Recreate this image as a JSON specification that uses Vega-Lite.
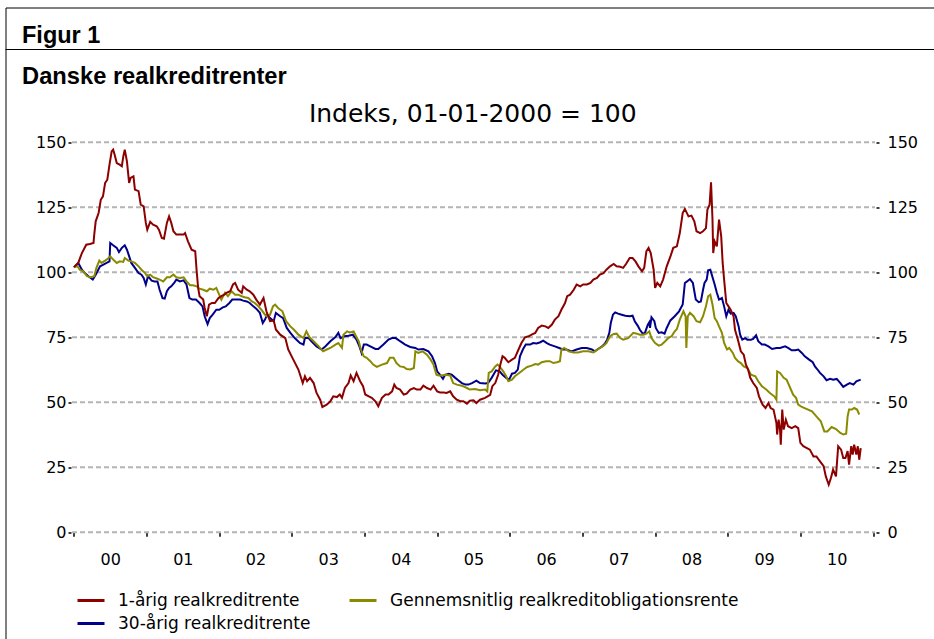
{
  "$schema": "https://vega.github.io/schema/vega-lite/v6.json",
  "background": "white",
  "autosize": {"type": "none"},
  "padding": {"left": 5.5, "top": 7.5, "right": 0, "bottom": 0},
  "width": 928.5,
  "height": 631.5,
  "title": {
    "text": "Figur 1",
    "anchor": "start",
    "frame": "group",
    "offset": -59,
    "dx": 16.5,
    "baseline": "alphabetic",
    "font": "Liberation Sans",
    "fontSize": 23.5,
    "fontWeight": "bold",
    "color": "black"
  },
  "datasets": {
    "grid": [{"g": 0}, {"g": 25}, {"g": 50}, {"g": 75}, {"g": 100}, {"g": 125}, {"g": 150}],
    "sep": [{"s": 185.69}],
    "head": [{"label": "Danske realkreditrenter"}],
    "sub": [{"label": "Indeks, 01-01-2000 = 100"}],
    "r1": [
      {"t":2000.00,"v":102},{"t":2000.06,"v":103.6},{"t":2000.11,"v":107.4},{"t":2000.17,"v":110.6},{"t":2000.22,"v":110.9},{"t":2000.27,"v":111.3},{"t":2000.28,"v":114.5},{"t":2000.30,"v":119.6},{"t":2000.34,"v":122.8},{"t":2000.37,"v":127.9},{"t":2000.40,"v":129.2},{"t":2000.43,"v":134.4},{"t":2000.46,"v":135.6},{"t":2000.49,"v":141.4},{"t":2000.52,"v":146.5},{"t":2000.54,"v":147.2},{"t":2000.56,"v":145.3},{"t":2000.59,"v":142},{"t":2000.63,"v":141.4},{"t":2000.66,"v":140.8},{"t":2000.68,"v":144.6},{"t":2000.70,"v":147.2},{"t":2000.73,"v":142.7},{"t":2000.76,"v":134.4},{"t":2000.78,"v":136.3},{"t":2000.82,"v":136.9},{"t":2000.84,"v":131.8},{"t":2000.89,"v":131.2},{"t":2000.92,"v":126},{"t":2000.96,"v":125.4},{"t":2000.99,"v":119},
      {"t":2001.01,"v":116.4},{"t":2001.05,"v":119.4},{"t":2001.09,"v":118.3},{"t":2001.14,"v":117.7},{"t":2001.17,"v":116.4},{"t":2001.21,"v":113.2},{"t":2001.24,"v":112.9},{"t":2001.28,"v":119},{"t":2001.31,"v":121.5},{"t":2001.34,"v":119},{"t":2001.37,"v":115.8},{"t":2001.41,"v":114.5},{"t":2001.46,"v":114.5},{"t":2001.51,"v":114.5},{"t":2001.53,"v":115.1},{"t":2001.57,"v":111.9},{"t":2001.62,"v":108.7},{"t":2001.67,"v":108.1},{"t":2001.69,"v":100.4},{"t":2001.71,"v":94},{"t":2001.73,"v":90.8},{"t":2001.78,"v":89.5},{"t":2001.80,"v":86.3},{"t":2001.83,"v":83.1},{"t":2001.86,"v":87.6},{"t":2001.90,"v":88.2},{"t":2001.94,"v":88.2},{"t":2001.99,"v":90.1},
      {"t":2002.03,"v":90.8},{"t":2002.07,"v":91.4},{"t":2002.10,"v":92.1},{"t":2002.15,"v":92.7},{"t":2002.19,"v":95.3},{"t":2002.22,"v":95.9},{"t":2002.26,"v":93.3},{"t":2002.31,"v":92.1},{"t":2002.33,"v":94.6},{"t":2002.38,"v":93.3},{"t":2002.42,"v":92.7},{"t":2002.47,"v":91.4},{"t":2002.51,"v":89.5},{"t":2002.56,"v":87.6},{"t":2002.61,"v":90.1},{"t":2002.65,"v":85},{"t":2002.70,"v":81.2},{"t":2002.75,"v":81.5},{"t":2002.78,"v":78},{"t":2002.84,"v":76},{"t":2002.91,"v":74.7},{"t":2002.95,"v":70.3},
      {"t":2003.02,"v":66.4},{"t":2003.09,"v":62.6},{"t":2003.15,"v":57.4},{"t":2003.18,"v":60},{"t":2003.21,"v":58.1},{"t":2003.25,"v":59.4},{"t":2003.30,"v":57.4},{"t":2003.34,"v":53.6},{"t":2003.39,"v":51},{"t":2003.42,"v":48.2},{"t":2003.48,"v":49.1},{"t":2003.53,"v":50.4},{"t":2003.57,"v":52.3},{"t":2003.62,"v":52},{"t":2003.66,"v":53},{"t":2003.69,"v":51.7},{"t":2003.73,"v":55.5},{"t":2003.78,"v":57.4},{"t":2003.81,"v":60.3},{"t":2003.85,"v":58.1},{"t":2003.89,"v":61.3},{"t":2003.94,"v":58.1},{"t":2003.98,"v":56.2},
      {"t":2004.01,"v":53},{"t":2004.06,"v":52.3},{"t":2004.10,"v":51.7},{"t":2004.15,"v":50.4},{"t":2004.19,"v":48.5},{"t":2004.24,"v":51.7},{"t":2004.29,"v":53},{"t":2004.33,"v":53},{"t":2004.38,"v":54.2},{"t":2004.41,"v":56.8},{"t":2004.44,"v":55.5},{"t":2004.49,"v":54.9},{"t":2004.54,"v":53},{"t":2004.58,"v":53.3},{"t":2004.63,"v":54.9},{"t":2004.68,"v":55.5},{"t":2004.72,"v":54.9},{"t":2004.77,"v":54.9},{"t":2004.81,"v":56.4},{"t":2004.86,"v":55.5},{"t":2004.91,"v":54.9},{"t":2004.95,"v":56.4},
      {"t":2005.00,"v":54.2},{"t":2005.04,"v":53.8},{"t":2005.09,"v":53.8},{"t":2005.13,"v":53.6},{"t":2005.18,"v":54.2},{"t":2005.22,"v":52.3},{"t":2005.27,"v":51},{"t":2005.32,"v":50.4},{"t":2005.36,"v":50.4},{"t":2005.41,"v":49.5},{"t":2005.45,"v":50.6},{"t":2005.50,"v":50.8},{"t":2005.54,"v":49.7},{"t":2005.59,"v":51},{"t":2005.66,"v":51.7},{"t":2005.73,"v":52.9},{"t":2005.76,"v":56.2},{"t":2005.80,"v":57.4},{"t":2005.84,"v":60.6},{"t":2005.87,"v":64.5},{"t":2005.90,"v":67.7},{"t":2005.93,"v":67.1},{"t":2005.98,"v":65.4},
      {"t":2006.03,"v":66.4},{"t":2006.07,"v":67.1},{"t":2006.12,"v":70.3},{"t":2006.16,"v":72.8},{"t":2006.21,"v":75},{"t":2006.26,"v":75.4},{"t":2006.30,"v":76},{"t":2006.35,"v":76.7},{"t":2006.39,"v":78.6},{"t":2006.44,"v":79.5},{"t":2006.49,"v":79.2},{"t":2006.53,"v":78.6},{"t":2006.58,"v":79.9},{"t":2006.62,"v":81.8},{"t":2006.67,"v":83.1},{"t":2006.71,"v":85.6},{"t":2006.76,"v":88.2},{"t":2006.79,"v":90.8},{"t":2006.83,"v":91.4},{"t":2006.88,"v":93.3},{"t":2006.92,"v":95.3},{"t":2006.97,"v":94.6},
      {"t":2007.01,"v":95.3},{"t":2007.06,"v":95.3},{"t":2007.11,"v":95.9},{"t":2007.15,"v":97.2},{"t":2007.20,"v":97.8},{"t":2007.24,"v":99.1},{"t":2007.29,"v":99.7},{"t":2007.33,"v":101},{"t":2007.38,"v":102.3},{"t":2007.43,"v":103.2},{"t":2007.47,"v":102.3},{"t":2007.52,"v":102.1},{"t":2007.56,"v":101.7},{"t":2007.60,"v":103.2},{"t":2007.65,"v":105.5},{"t":2007.69,"v":105.5},{"t":2007.73,"v":104.2},{"t":2007.77,"v":102.3},{"t":2007.82,"v":100.4},{"t":2007.85,"v":101.7},{"t":2007.88,"v":108.1},{"t":2007.91,"v":109.4},{"t":2007.94,"v":107.4},{"t":2007.98,"v":101},
      {"t":2008.00,"v":94},{"t":2008.03,"v":95.9},{"t":2008.07,"v":94.6},{"t":2008.11,"v":97.2},{"t":2008.16,"v":102.3},{"t":2008.21,"v":106},{"t":2008.25,"v":109.4},{"t":2008.30,"v":110},{"t":2008.34,"v":115.1},{"t":2008.38,"v":122.8},{"t":2008.41,"v":124.4},{"t":2008.46,"v":121.5},{"t":2008.50,"v":121.8},{"t":2008.54,"v":119.6},{"t":2008.57,"v":115.8},{"t":2008.62,"v":115.1},{"t":2008.66,"v":115.8},{"t":2008.70,"v":117},{"t":2008.72,"v":124.1},{"t":2008.75,"v":126},{"t":2008.77,"v":134.6},{"t":2008.79,"v":120.3},{"t":2008.80,"v":107.4},{"t":2008.82,"v":111.9},{"t":2008.85,"v":110},{"t":2008.88,"v":120.3},{"t":2008.91,"v":113.8},{"t":2008.93,"v":103.6},{"t":2008.95,"v":97.2},{"t":2008.98,"v":88.2},
      {"t":2009.01,"v":86.9},{"t":2009.04,"v":85.6},{"t":2009.08,"v":83.1},{"t":2009.10,"v":77.9},{"t":2009.14,"v":74.1},{"t":2009.18,"v":69.6},{"t":2009.22,"v":68.3},{"t":2009.25,"v":64.5},{"t":2009.28,"v":62.6},{"t":2009.31,"v":59.4},{"t":2009.35,"v":57.4},{"t":2009.40,"v":55.5},{"t":2009.43,"v":52.3},{"t":2009.48,"v":49.1},{"t":2009.52,"v":47.8},{"t":2009.56,"v":49.7},{"t":2009.59,"v":47.8},{"t":2009.63,"v":47.2},{"t":2009.67,"v":42},{"t":2009.68,"v":37.6},{"t":2009.70,"v":43.3},{"t":2009.72,"v":39.5},{"t":2009.73,"v":33.7},{"t":2009.75,"v":47.2},{"t":2009.77,"v":39.5},{"t":2009.80,"v":43.3},{"t":2009.83,"v":40.8},{"t":2009.88,"v":40.1},{"t":2009.93,"v":40.8},{"t":2009.97,"v":40.1},
      {"t":2010.00,"v":34.4},{"t":2010.04,"v":33.1},{"t":2010.09,"v":32.4},{"t":2010.13,"v":31.8},{"t":2010.18,"v":29.2},{"t":2010.22,"v":29.2},{"t":2010.27,"v":27.3},{"t":2010.32,"v":25.4},{"t":2010.35,"v":21.5},{"t":2010.39,"v":18.3},{"t":2010.42,"v":20.9},{"t":2010.45,"v":24.1},{"t":2010.49,"v":21.5},{"t":2010.52,"v":33.1},{"t":2010.56,"v":31.8},{"t":2010.59,"v":28.6},{"t":2010.62,"v":28.6},{"t":2010.65,"v":31.2},{"t":2010.67,"v":26},{"t":2010.70,"v":33.1},{"t":2010.72,"v":29.9},{"t":2010.74,"v":33.7},{"t":2010.77,"v":29.9},{"t":2010.79,"v":33.1},{"t":2010.81,"v":27.9},{"t":2010.83,"v":32.4}
    ],
    "r30": [
      {"t":2000.00,"v":101.9},{"t":2000.06,"v":103.6},{"t":2000.11,"v":101},{"t":2000.15,"v":99.7},{"t":2000.20,"v":98.5},{"t":2000.26,"v":97.2},{"t":2000.30,"v":99.1},{"t":2000.36,"v":102.3},{"t":2000.40,"v":102.9},{"t":2000.45,"v":103.6},{"t":2000.49,"v":104.2},{"t":2000.50,"v":111.3},{"t":2000.54,"v":110.4},{"t":2000.59,"v":109.4},{"t":2000.62,"v":107.8},{"t":2000.66,"v":109.4},{"t":2000.70,"v":110.4},{"t":2000.73,"v":108.7},{"t":2000.76,"v":106.2},{"t":2000.79,"v":103.6},{"t":2000.84,"v":101.7},{"t":2000.89,"v":99.7},{"t":2000.93,"v":99.1},{"t":2000.96,"v":97.8},{"t":2000.99,"v":95.3},
      {"t":2001.02,"v":98.5},{"t":2001.07,"v":96.8},{"t":2001.11,"v":96.5},{"t":2001.15,"v":96.5},{"t":2001.18,"v":93.3},{"t":2001.22,"v":90.1},{"t":2001.25,"v":89.9},{"t":2001.28,"v":92.7},{"t":2001.31,"v":94},{"t":2001.34,"v":94.6},{"t":2001.38,"v":95.9},{"t":2001.41,"v":97.2},{"t":2001.46,"v":96.5},{"t":2001.51,"v":96.9},{"t":2001.55,"v":95.3},{"t":2001.59,"v":90.1},{"t":2001.63,"v":89.5},{"t":2001.68,"v":89.5},{"t":2001.73,"v":88.2},{"t":2001.77,"v":86.9},{"t":2001.80,"v":83.1},{"t":2001.84,"v":80.1},{"t":2001.87,"v":82.4},{"t":2001.91,"v":83.7},{"t":2001.96,"v":85.6},
      {"t":2002.00,"v":85.6},{"t":2002.05,"v":86.5},{"t":2002.09,"v":86.9},{"t":2002.14,"v":88.2},{"t":2002.18,"v":89.5},{"t":2002.23,"v":89.5},{"t":2002.29,"v":89.5},{"t":2002.33,"v":89.1},{"t":2002.38,"v":88.8},{"t":2002.42,"v":88.2},{"t":2002.47,"v":86.9},{"t":2002.51,"v":86},{"t":2002.56,"v":84.4},{"t":2002.60,"v":80.5},{"t":2002.63,"v":81.8},{"t":2002.66,"v":83.7},{"t":2002.70,"v":82.4},{"t":2002.75,"v":81.2},{"t":2002.78,"v":84.4},{"t":2002.84,"v":83.1},{"t":2002.88,"v":82.4},{"t":2002.93,"v":78.6},{"t":2002.98,"v":76.7},
      {"t":2003.04,"v":74.7},{"t":2003.11,"v":72.8},{"t":2003.16,"v":72.2},{"t":2003.18,"v":74.7},{"t":2003.23,"v":74.7},{"t":2003.27,"v":73.5},{"t":2003.34,"v":71.5},{"t":2003.41,"v":70.3},{"t":2003.46,"v":71.5},{"t":2003.53,"v":73.5},{"t":2003.60,"v":75.1},{"t":2003.64,"v":76.7},{"t":2003.67,"v":74.7},{"t":2003.72,"v":75.4},{"t":2003.78,"v":75.6},{"t":2003.84,"v":76},{"t":2003.89,"v":74.1},{"t":2003.93,"v":71.5},{"t":2003.96,"v":69},{"t":2003.99,"v":72.2},
      {"t":2004.03,"v":72.2},{"t":2004.08,"v":71.5},{"t":2004.15,"v":70.5},{"t":2004.19,"v":70.5},{"t":2004.26,"v":72.2},{"t":2004.33,"v":74.1},{"t":2004.38,"v":74.7},{"t":2004.43,"v":74.7},{"t":2004.49,"v":73.5},{"t":2004.56,"v":72.2},{"t":2004.63,"v":71.3},{"t":2004.70,"v":70.9},{"t":2004.74,"v":70.3},{"t":2004.81,"v":70.5},{"t":2004.88,"v":69.6},{"t":2004.93,"v":67.7},{"t":2004.97,"v":65.1},
      {"t":2005.00,"v":61.9},{"t":2005.04,"v":60.6},{"t":2005.08,"v":59},{"t":2005.11,"v":60.6},{"t":2005.16,"v":61},{"t":2005.20,"v":60.6},{"t":2005.25,"v":59.4},{"t":2005.29,"v":58.5},{"t":2005.34,"v":57.4},{"t":2005.39,"v":56.8},{"t":2005.43,"v":56.8},{"t":2005.48,"v":57.4},{"t":2005.54,"v":58.3},{"t":2005.59,"v":57.4},{"t":2005.66,"v":57.2},{"t":2005.70,"v":57.4},{"t":2005.75,"v":59.4},{"t":2005.81,"v":62.3},{"t":2005.86,"v":61.9},{"t":2005.90,"v":60.6},{"t":2005.95,"v":59.4},{"t":2005.99,"v":58.7},
      {"t":2006.03,"v":61},{"t":2006.07,"v":61.3},{"t":2006.11,"v":62.6},{"t":2006.14,"v":67.7},{"t":2006.18,"v":70.3},{"t":2006.22,"v":72.2},{"t":2006.28,"v":72.2},{"t":2006.32,"v":72.8},{"t":2006.37,"v":72.6},{"t":2006.42,"v":73.1},{"t":2006.46,"v":73.7},{"t":2006.51,"v":72.8},{"t":2006.55,"v":72.2},{"t":2006.62,"v":71.5},{"t":2006.68,"v":70.9},{"t":2006.73,"v":70.3},{"t":2006.78,"v":70.3},{"t":2006.85,"v":69.6},{"t":2006.92,"v":70.3},{"t":2006.99,"v":70.9},
      {"t":2007.06,"v":70.9},{"t":2007.13,"v":70.3},{"t":2007.17,"v":69.6},{"t":2007.22,"v":70.6},{"t":2007.27,"v":71.5},{"t":2007.31,"v":72.6},{"t":2007.34,"v":74.1},{"t":2007.37,"v":76.7},{"t":2007.39,"v":80.5},{"t":2007.42,"v":83.7},{"t":2007.45,"v":84.6},{"t":2007.49,"v":84.1},{"t":2007.54,"v":83.7},{"t":2007.59,"v":83.3},{"t":2007.65,"v":83.1},{"t":2007.69,"v":83.3},{"t":2007.72,"v":81.2},{"t":2007.76,"v":79.5},{"t":2007.79,"v":77.9},{"t":2007.83,"v":76.4},{"t":2007.86,"v":76.7},{"t":2007.90,"v":79.9},{"t":2007.92,"v":80.8},{"t":2007.93,"v":78.6},{"t":2007.95,"v":82.7},{"t":2007.99,"v":81.2},
      {"t":2008.01,"v":78.6},{"t":2008.05,"v":76.7},{"t":2008.09,"v":76.9},{"t":2008.13,"v":76.4},{"t":2008.16,"v":78.6},{"t":2008.21,"v":81.5},{"t":2008.27,"v":83.1},{"t":2008.33,"v":85},{"t":2008.38,"v":87.6},{"t":2008.41,"v":95.9},{"t":2008.44,"v":96.5},{"t":2008.48,"v":97.4},{"t":2008.52,"v":95.9},{"t":2008.54,"v":92.7},{"t":2008.56,"v":89.5},{"t":2008.60,"v":88.5},{"t":2008.63,"v":88.8},{"t":2008.66,"v":93.3},{"t":2008.68,"v":95.9},{"t":2008.71,"v":97.2},{"t":2008.73,"v":100.8},{"t":2008.76,"v":101},{"t":2008.78,"v":99.1},{"t":2008.82,"v":95.3},{"t":2008.85,"v":92.1},{"t":2008.88,"v":89.5},{"t":2008.92,"v":90.1},{"t":2008.95,"v":86.9},{"t":2008.98,"v":83.1},
      {"t":2009.01,"v":85.6},{"t":2009.04,"v":84.1},{"t":2009.08,"v":84.4},{"t":2009.11,"v":83.1},{"t":2009.15,"v":79.2},{"t":2009.17,"v":76},{"t":2009.20,"v":74.1},{"t":2009.24,"v":74.7},{"t":2009.27,"v":74.1},{"t":2009.32,"v":74.1},{"t":2009.35,"v":74.4},{"t":2009.39,"v":75.8},{"t":2009.42,"v":73.5},{"t":2009.47,"v":72.2},{"t":2009.51,"v":72.2},{"t":2009.56,"v":71.5},{"t":2009.61,"v":70.5},{"t":2009.67,"v":70.9},{"t":2009.72,"v":70.9},{"t":2009.79,"v":71.5},{"t":2009.83,"v":70.9},{"t":2009.88,"v":70},{"t":2009.93,"v":70},{"t":2009.97,"v":70.3},
      {"t":2010.02,"v":69},{"t":2010.06,"v":67.7},{"t":2010.12,"v":66.4},{"t":2010.17,"v":65.4},{"t":2010.20,"v":63.8},{"t":2010.23,"v":62.8},{"t":2010.27,"v":61.3},{"t":2010.32,"v":60},{"t":2010.36,"v":58.5},{"t":2010.41,"v":59},{"t":2010.45,"v":58.7},{"t":2010.50,"v":59},{"t":2010.55,"v":57.4},{"t":2010.59,"v":55.9},{"t":2010.64,"v":56.8},{"t":2010.68,"v":57.4},{"t":2010.73,"v":56.8},{"t":2010.77,"v":58.1},{"t":2010.83,"v":58.7}
    ],
    "gen": [
      {"t":2000.00,"v":101.9},{"t":2000.05,"v":102.3},{"t":2000.08,"v":101},{"t":2000.13,"v":100.4},{"t":2000.18,"v":98.5},{"t":2000.23,"v":98.1},{"t":2000.28,"v":98.5},{"t":2000.31,"v":101.7},{"t":2000.35,"v":104.5},{"t":2000.38,"v":103.6},{"t":2000.43,"v":104.5},{"t":2000.47,"v":105.3},{"t":2000.50,"v":106.2},{"t":2000.54,"v":104.9},{"t":2000.59,"v":103.6},{"t":2000.63,"v":104.2},{"t":2000.68,"v":104},{"t":2000.70,"v":105.5},{"t":2000.75,"v":104.5},{"t":2000.79,"v":104.2},{"t":2000.84,"v":103.6},{"t":2000.89,"v":102.3},{"t":2000.93,"v":101},{"t":2000.98,"v":99.7},
      {"t":2001.01,"v":98.5},{"t":2001.05,"v":99.1},{"t":2001.09,"v":98.1},{"t":2001.14,"v":97.6},{"t":2001.18,"v":97.2},{"t":2001.23,"v":96.5},{"t":2001.28,"v":98.1},{"t":2001.32,"v":98.1},{"t":2001.37,"v":99.1},{"t":2001.41,"v":98.1},{"t":2001.46,"v":97.8},{"t":2001.51,"v":98.1},{"t":2001.55,"v":96.5},{"t":2001.60,"v":95},{"t":2001.64,"v":95},{"t":2001.69,"v":94.6},{"t":2001.73,"v":93.7},{"t":2001.78,"v":93.3},{"t":2001.83,"v":92.7},{"t":2001.87,"v":93.7},{"t":2001.92,"v":93.3},{"t":2001.96,"v":94},
      {"t":2002.00,"v":91.4},{"t":2002.03,"v":89.5},{"t":2002.08,"v":92.1},{"t":2002.12,"v":90.8},{"t":2002.17,"v":92.7},{"t":2002.22,"v":91.4},{"t":2002.26,"v":91.4},{"t":2002.31,"v":90.8},{"t":2002.35,"v":90.4},{"t":2002.40,"v":90.1},{"t":2002.45,"v":88.8},{"t":2002.49,"v":88.2},{"t":2002.54,"v":86.9},{"t":2002.58,"v":85.6},{"t":2002.63,"v":83.7},{"t":2002.66,"v":83.1},{"t":2002.70,"v":83.7},{"t":2002.74,"v":86.9},{"t":2002.77,"v":87.6},{"t":2002.81,"v":86.3},{"t":2002.87,"v":85},{"t":2002.92,"v":81.2},{"t":2002.98,"v":79.2},
      {"t":2003.03,"v":77.9},{"t":2003.09,"v":76},{"t":2003.16,"v":74.7},{"t":2003.20,"v":77.3},{"t":2003.24,"v":75.1},{"t":2003.30,"v":73.5},{"t":2003.37,"v":71.5},{"t":2003.43,"v":69.6},{"t":2003.48,"v":70.3},{"t":2003.53,"v":70.9},{"t":2003.60,"v":72.2},{"t":2003.64,"v":72.8},{"t":2003.69,"v":70.9},{"t":2003.71,"v":76},{"t":2003.76,"v":77.3},{"t":2003.80,"v":76.9},{"t":2003.85,"v":77.3},{"t":2003.88,"v":75.6},{"t":2003.92,"v":73.5},{"t":2003.95,"v":70.3},{"t":2003.99,"v":67.7},
      {"t":2004.03,"v":67.1},{"t":2004.08,"v":65.8},{"t":2004.12,"v":64.5},{"t":2004.17,"v":63.6},{"t":2004.24,"v":64.5},{"t":2004.31,"v":65.1},{"t":2004.35,"v":67.1},{"t":2004.40,"v":67.1},{"t":2004.44,"v":65.1},{"t":2004.49,"v":63.8},{"t":2004.54,"v":63.6},{"t":2004.58,"v":62.8},{"t":2004.63,"v":62.6},{"t":2004.68,"v":63.2},{"t":2004.70,"v":69.6},{"t":2004.74,"v":69},{"t":2004.80,"v":69.6},{"t":2004.86,"v":68.3},{"t":2004.91,"v":66.4},{"t":2004.95,"v":64.5},{"t":2004.99,"v":60.6},
      {"t":2005.02,"v":60.3},{"t":2005.06,"v":60.3},{"t":2005.11,"v":60.6},{"t":2005.18,"v":60.3},{"t":2005.22,"v":57.4},{"t":2005.27,"v":56.8},{"t":2005.34,"v":56.4},{"t":2005.41,"v":55.5},{"t":2005.45,"v":54.9},{"t":2005.52,"v":55.1},{"t":2005.59,"v":54.6},{"t":2005.66,"v":54.9},{"t":2005.69,"v":54.2},{"t":2005.71,"v":61.3},{"t":2005.75,"v":61.9},{"t":2005.80,"v":63.8},{"t":2005.83,"v":64.5},{"t":2005.86,"v":63.8},{"t":2005.91,"v":61.9},{"t":2005.95,"v":60},{"t":2005.98,"v":58.1},
      {"t":2006.03,"v":58.7},{"t":2006.07,"v":60},{"t":2006.13,"v":61.3},{"t":2006.19,"v":62.6},{"t":2006.24,"v":63.6},{"t":2006.30,"v":64.1},{"t":2006.35,"v":64.7},{"t":2006.39,"v":64.5},{"t":2006.44,"v":65.4},{"t":2006.50,"v":65.8},{"t":2006.55,"v":65.8},{"t":2006.60,"v":65.1},{"t":2006.65,"v":65.4},{"t":2006.69,"v":65.8},{"t":2006.71,"v":70.3},{"t":2006.75,"v":70.9},{"t":2006.81,"v":69.6},{"t":2006.88,"v":69.2},{"t":2006.94,"v":69.2},
      {"t":2007.01,"v":69.6},{"t":2007.08,"v":69.6},{"t":2007.15,"v":69.2},{"t":2007.22,"v":70.5},{"t":2007.29,"v":71.8},{"t":2007.33,"v":72.8},{"t":2007.38,"v":75.4},{"t":2007.43,"v":76.3},{"t":2007.47,"v":76.4},{"t":2007.52,"v":74.7},{"t":2007.56,"v":74.1},{"t":2007.63,"v":74.7},{"t":2007.70,"v":76.7},{"t":2007.75,"v":76.4},{"t":2007.79,"v":76},{"t":2007.84,"v":76},{"t":2007.88,"v":76.4},{"t":2007.92,"v":77.3},{"t":2007.95,"v":74.7},
      {"t":2008.00,"v":72.8},{"t":2008.05,"v":71.8},{"t":2008.09,"v":72.2},{"t":2008.14,"v":73.5},{"t":2008.18,"v":74.7},{"t":2008.23,"v":75.5},{"t":2008.26,"v":76.9},{"t":2008.30,"v":78.2},{"t":2008.34,"v":81.8},{"t":2008.39,"v":85},{"t":2008.42,"v":83.1},{"t":2008.43,"v":70.9},{"t":2008.45,"v":83.1},{"t":2008.48,"v":84.4},{"t":2008.53,"v":83.1},{"t":2008.57,"v":81.2},{"t":2008.62,"v":80.8},{"t":2008.66,"v":83.1},{"t":2008.70,"v":86.9},{"t":2008.73,"v":90.8},{"t":2008.76,"v":91.4},{"t":2008.79,"v":87.6},{"t":2008.82,"v":82.4},{"t":2008.85,"v":81.2},{"t":2008.88,"v":79.2},{"t":2008.92,"v":76.7},{"t":2008.95,"v":72.8},{"t":2008.99,"v":70.3},
      {"t":2009.02,"v":70.9},{"t":2009.07,"v":69},{"t":2009.10,"v":67.1},{"t":2009.14,"v":65.8},{"t":2009.18,"v":65.1},{"t":2009.22,"v":63.8},{"t":2009.27,"v":63.2},{"t":2009.32,"v":60.6},{"t":2009.38,"v":60},{"t":2009.42,"v":58.1},{"t":2009.47,"v":56.2},{"t":2009.53,"v":54.9},{"t":2009.58,"v":53.6},{"t":2009.64,"v":52.3},{"t":2009.67,"v":51},{"t":2009.68,"v":61.9},{"t":2009.72,"v":61.3},{"t":2009.77,"v":59.4},{"t":2009.81,"v":58.7},{"t":2009.86,"v":55.5},{"t":2009.90,"v":52.9},{"t":2009.94,"v":51.7},{"t":2009.97,"v":49.1},
      {"t":2010.02,"v":48.2},{"t":2010.09,"v":47.4},{"t":2010.16,"v":46.5},{"t":2010.22,"v":44.6},{"t":2010.28,"v":42.7},{"t":2010.33,"v":38.8},{"t":2010.37,"v":38.8},{"t":2010.43,"v":40.5},{"t":2010.49,"v":39.7},{"t":2010.55,"v":38.2},{"t":2010.59,"v":37.6},{"t":2010.63,"v":37.9},{"t":2010.65,"v":44.6},{"t":2010.67,"v":47.2},{"t":2010.71,"v":47.2},{"t":2010.74,"v":47.8},{"t":2010.78,"v":47.2},{"t":2010.81,"v":45.3}
    ]
  },
  "resolve": {"axis": {"y": "independent"}},
  "layer": [
    {
      "data": {"name": "grid"},
      "mark": {"type": "rule", "color": "#b4b4b4", "strokeWidth": 2, "strokeDash": [5, 3]},
      "encoding": {
        "y": {
          "field": "g", "type": "quantitative",
          "scale": {"domain": [-41.04, 201.85], "nice": false, "zero": false},
          "axis": {"orient": "left", "offset": -65.5, "values": [0, 25, 50, 75, 100, 125, 150], "tickSize": 3, "tickWidth": 1.5, "labelPadding": 2, "title": null}
        },
        "x": {
          "datum": 1999.974, "type": "quantitative",
          "scale": {"domain": [1999.0585, 2011.839], "nice": false, "zero": false},
          "axis": {
            "orient": "bottom", "offset": -106.7,
            "values": [2000, 2001, 2002, 2003, 2004, 2005, 2006, 2007, 2008, 2009, 2010, 2011],
            "tickSize": 4, "tickWidth": 1.5, "labelPadding": 15.5, "labelOffset": 36.3,
            "labelOverlap": false, "labelFlush": false, "labelBound": false,
            "labelExpr": "datum.value > 2010.5 ? '' : (datum.value < 2010 ? '0' + (datum.value - 2000) : '10')",
            "title": null
          }
        },
        "x2": {"datum": 2011.027}
      }
    },
    {
      "data": {"name": "sep"},
      "mark": {"type": "rule", "color": "black", "strokeWidth": 1},
      "encoding": {
        "y": {"field": "s", "type": "quantitative", "axis": null}
      }
    },
    {
      "data": {"name": "r30"},
      "mark": {"type": "line", "strokeWidth": 2},
      "encoding": {
        "x": {"field": "t", "type": "quantitative"},
        "y": {
          "field": "v", "type": "quantitative",
          "axis": {"orient": "right", "offset": -58, "values": [0, 25, 50, 75, 100, 125, 150], "tickSize": 3, "tickWidth": 1.5, "labelPadding": 8, "title": null}
        },
        "color": {
          "datum": "30-årig realkreditrente",
          "scale": {
            "domain": ["1-årig realkreditrente", "Gennemsnitlig realkreditobligationsrente", "30-årig realkreditrente"],
            "range": ["#8c0000", "#8a8a00", "#00008c"]
          },
          "legend": {
            "orient": "none", "legendX": 70.5, "legendY": 578, "direction": "horizontal",
            "columns": 2, "columnPadding": 32, "rowPadding": -2,
            "labelFont": "DejaVu Sans", "labelFontSize": 17, "labelColor": "black",
            "labelOffset": 12, "labelLimit": 500,
            "symbolType": "stroke", "symbolSize": 729, "symbolStrokeWidth": 3,
            "title": null
          }
        }
      }
    },
    {
      "data": {"name": "gen"},
      "mark": {"type": "line", "strokeWidth": 2},
      "encoding": {
        "x": {"field": "t", "type": "quantitative"},
        "y": {"field": "v", "type": "quantitative", "axis": null},
        "color": {"datum": "Gennemsnitlig realkreditobligationsrente"}
      }
    },
    {
      "data": {"name": "r1"},
      "mark": {"type": "line", "strokeWidth": 2},
      "encoding": {
        "x": {"field": "t", "type": "quantitative"},
        "y": {"field": "v", "type": "quantitative", "axis": null},
        "color": {"datum": "1-årig realkreditrente"}
      }
    },
    {
      "data": {"name": "head"},
      "mark": {"type": "text", "font": "Liberation Sans", "fontSize": 23.7, "fontWeight": "bold", "align": "left", "baseline": "alphabetic", "color": "black"},
      "encoding": {
        "x": {"datum": 1999.286, "type": "quantitative"},
        "y": {"datum": 172.42, "type": "quantitative", "axis": null},
        "text": {"field": "label"}
      }
    },
    {
      "data": {"name": "sub"},
      "mark": {"type": "text", "font": "DejaVu Sans", "fontSize": 25, "align": "center", "baseline": "alphabetic", "color": "black"},
      "encoding": {
        "x": {"datum": 2005.49, "type": "quantitative"},
        "y": {"datum": 157.8, "type": "quantitative", "axis": null},
        "text": {"field": "label"}
      }
    }
  ],
  "config": {
    "view": {"stroke": "black", "strokeWidth": 1},
    "axis": {
      "domain": false,
      "grid": false,
      "tickColor": "black",
      "labelColor": "black",
      "labelFont": "DejaVu Sans",
      "labelFontSize": 16
    }
  }
}
